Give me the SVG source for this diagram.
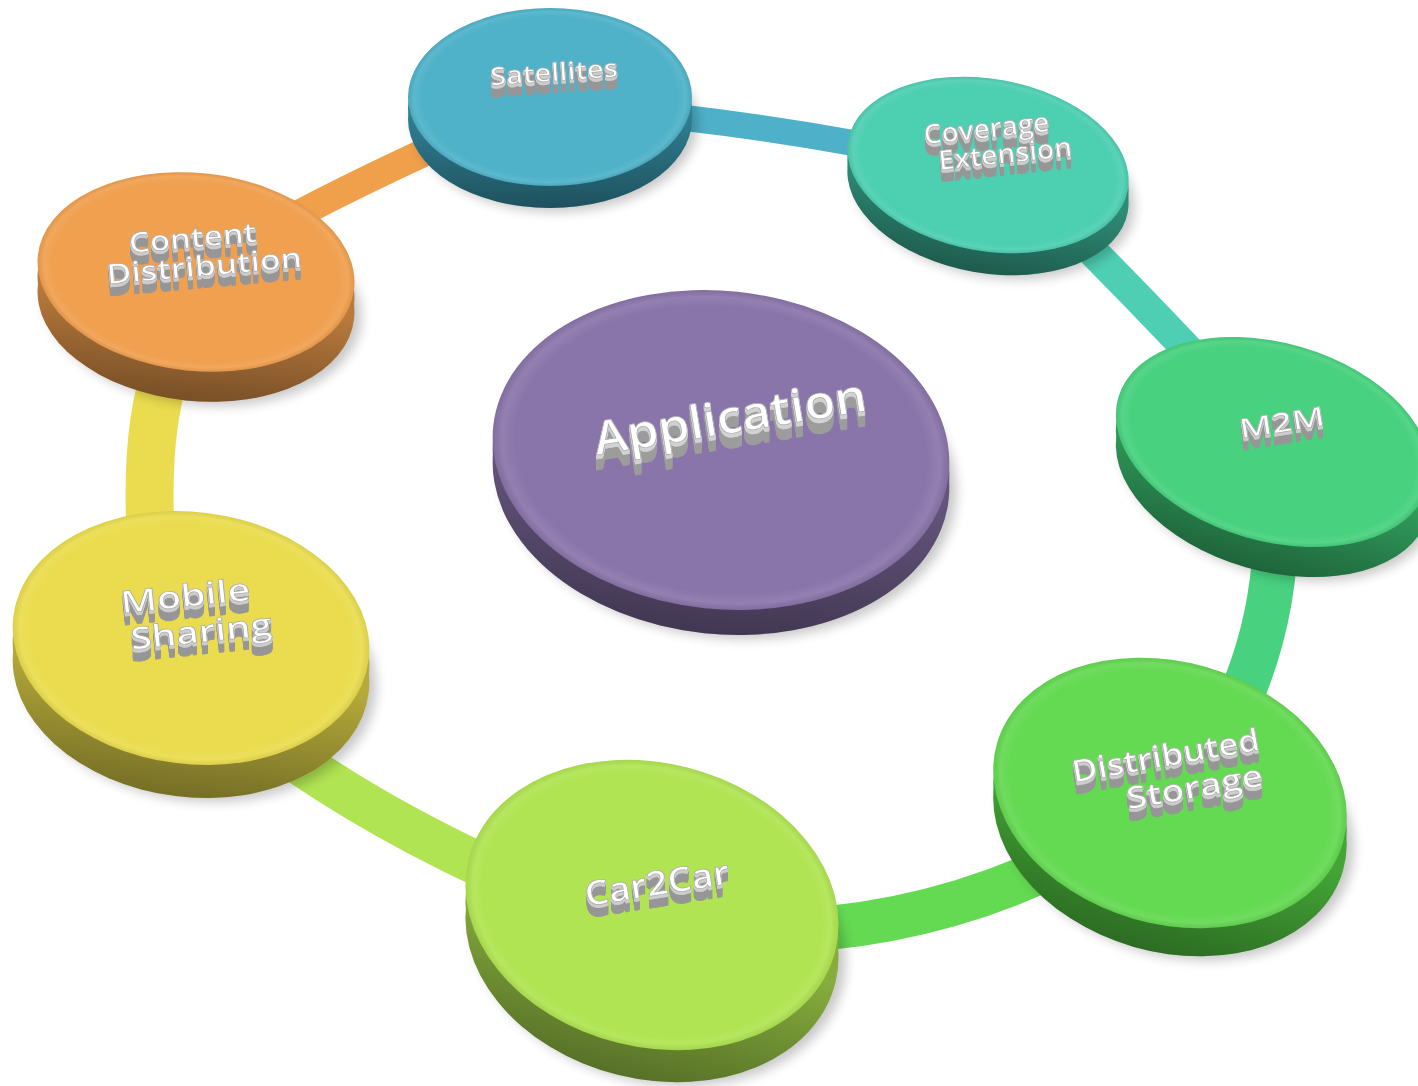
<svg xmlns="http://www.w3.org/2000/svg" width="1418" height="1086" viewBox="0 0 1418 1086">
<style>
.seg{fill:none;stroke-linecap:butt}
.lbl{font-family:"Open Sans","Liberation Sans",sans-serif;font-weight:600;fill:#ffffff;stroke:#a9a9a9;stroke-width:0.7;text-anchor:middle}
.shadow{fill:#000;opacity:0.22;filter:url(#blur)}
.sideShade{fill:url(#sideShade)}
.bevel{fill:url(#bevel)}
</style>
<defs>
<filter id="blur" x="-20%" y="-20%" width="140%" height="140%"><feGaussianBlur stdDeviation="6"/></filter>
<linearGradient id="sideShade" x1="0" y1="0" x2="0" y2="1">
<stop offset="0.5" stop-color="#000" stop-opacity="0"/>
<stop offset="1" stop-color="#000" stop-opacity="0.35"/>
</linearGradient>
<radialGradient id="bevel" cx="0.5" cy="0.5" r="0.5">
<stop offset="0.9" stop-color="#fff" stop-opacity="0"/>
<stop offset="0.96" stop-color="#fff" stop-opacity="0.08"/>
<stop offset="1" stop-color="#000" stop-opacity="0.06"/>
</radialGradient>
<filter id="ext" x="-10%" y="-30%" width="120%" height="220%">
<feOffset in="SourceAlpha" dy="1" result="a1"/><feOffset in="SourceAlpha" dy="2" result="a2"/>
<feOffset in="SourceAlpha" dy="3" result="a3"/><feOffset in="SourceAlpha" dy="4" result="a4"/>
<feOffset in="SourceAlpha" dy="5" result="a5"/><feOffset in="SourceAlpha" dy="6" result="a6"/>
<feOffset in="SourceAlpha" dy="7" result="a7"/><feOffset in="SourceAlpha" dy="8" result="a8"/>
<feOffset in="SourceAlpha" dy="9" result="a9"/><feOffset in="SourceAlpha" dy="10" result="a10"/>
<feOffset in="SourceAlpha" dy="11" result="a11"/><feOffset in="SourceAlpha" dy="12" result="a12"/>
<feMerge result="deep"><feMergeNode in="a4"/><feMergeNode in="a5"/><feMergeNode in="a6"/><feMergeNode in="a7"/><feMergeNode in="a8"/><feMergeNode in="a9"/><feMergeNode in="a10"/><feMergeNode in="a11"/><feMergeNode in="a12"/></feMerge>
<feMerge result="shallow"><feMergeNode in="a1"/><feMergeNode in="a2"/><feMergeNode in="a3"/></feMerge>
<feFlood flood-color="#969696"/><feComposite in2="deep" operator="in" result="d"/>
<feFlood flood-color="#cdcdcd"/><feComposite in2="shallow" operator="in" result="s"/>
<feMerge><feMergeNode in="d"/><feMergeNode in="s"/><feMergeNode in="SourceGraphic"/></feMerge>
</filter>
<filter id="extL" x="-10%" y="-30%" width="120%" height="220%">
<feOffset in="SourceAlpha" dy="1" result="a1"/><feOffset in="SourceAlpha" dy="2" result="a2"/>
<feOffset in="SourceAlpha" dy="3" result="a3"/><feOffset in="SourceAlpha" dy="4" result="a4"/>
<feOffset in="SourceAlpha" dy="5" result="a5"/><feOffset in="SourceAlpha" dy="6" result="a6"/>
<feOffset in="SourceAlpha" dy="7" result="a7"/><feOffset in="SourceAlpha" dy="8" result="a8"/>
<feOffset in="SourceAlpha" dy="9" result="a9"/><feOffset in="SourceAlpha" dy="10" result="a10"/>
<feOffset in="SourceAlpha" dy="11" result="a11"/><feOffset in="SourceAlpha" dy="12" result="a12"/>
<feOffset in="SourceAlpha" dy="13" result="a13"/><feOffset in="SourceAlpha" dy="14" result="a14"/>
<feOffset in="SourceAlpha" dy="15" result="a15"/>
<feMerge result="deep"><feMergeNode in="a5"/><feMergeNode in="a6"/><feMergeNode in="a7"/><feMergeNode in="a8"/><feMergeNode in="a9"/><feMergeNode in="a10"/><feMergeNode in="a11"/><feMergeNode in="a12"/><feMergeNode in="a13"/><feMergeNode in="a14"/><feMergeNode in="a15"/></feMerge>
<feMerge result="shallow"><feMergeNode in="a1"/><feMergeNode in="a2"/><feMergeNode in="a3"/><feMergeNode in="a4"/></feMerge>
<feFlood flood-color="#9c9c9c"/><feComposite in2="deep" operator="in" result="d"/>
<feFlood flood-color="#d2d2d2"/><feComposite in2="shallow" operator="in" result="s"/>
<feMerge><feMergeNode in="d"/><feMergeNode in="s"/><feMergeNode in="SourceGraphic"/></feMerge>
</filter>
</defs>
<rect width="1418" height="1086" fill="#ffffff"/>

<g id="connectors">
<path class="seg" d="M196,272 Q330,190 550,97" stroke="#F0A04B" stroke-width="28"/>
<path class="seg" d="M600,110 Q760,122 940,160" stroke="#4FB1C9" stroke-width="26"/>
<path class="seg" d="M1000,160 Q1140,295 1273,442" stroke="#4ECFB3" stroke-width="31"/>
<path class="seg" d="M1275,480 C1280,560 1270,640 1230,720" stroke="#48D17F" stroke-width="45"/>
<path class="seg" d="M700,930 Q930,945 1120,830" stroke="#64D952" stroke-width="44"/>
<path class="seg" d="M560,900 Q340,810 192,680" stroke="#B0E452" stroke-width="44"/>
<path class="seg" d="M152,560 C145,460 150,380 196,300" stroke="#EADC4E" stroke-width="48"/>
</g>

<g id="node-satellites">
<ellipse class="shadow" cx="0" cy="0" rx="142" ry="89" transform="translate(556,123)"/>
<ellipse cx="0" cy="0" rx="142" ry="89" fill="#2F7D91" transform="translate(550,119)"/>
<ellipse cx="0" cy="0" rx="142" ry="89" fill="#2F7D91" transform="translate(550,108)"/>
<ellipse class="sideShade" cx="0" cy="0" rx="142" ry="89" transform="translate(550,119)"/>
<ellipse cx="0" cy="0" rx="142" ry="89" fill="#4FB2C9" transform="translate(550,97)"/>
<ellipse class="bevel" cx="0" cy="0" rx="142" ry="89" transform="translate(550,97)"/>
<g filter="url(#ext)"><text class="lbl" x="554" y="81" font-size="25" textLength="128" lengthAdjust="spacingAndGlyphs" transform="rotate(-4 554 73)">Satellites</text></g>
</g>

<g id="node-coverage">
<ellipse class="shadow" cx="0" cy="0" rx="142" ry="86" transform="translate(994,191) rotate(10)"/>
<ellipse cx="0" cy="0" rx="142" ry="86" fill="#2E8C76" transform="translate(988,187) rotate(10)"/>
<ellipse cx="0" cy="0" rx="142" ry="86" fill="#2E8C76" transform="translate(988,176) rotate(10)"/>
<ellipse class="sideShade" cx="0" cy="0" rx="142" ry="86" transform="translate(988,187) rotate(10)"/>
<ellipse cx="0" cy="0" rx="142" ry="86" fill="#4DCFB2" transform="translate(988,165) rotate(10)"/>
<ellipse class="bevel" cx="0" cy="0" rx="142" ry="86" transform="translate(988,165) rotate(10)"/>
<g filter="url(#ext)"><text class="lbl" font-size="27" transform="rotate(-6 995 142)"><tspan x="988" y="137" textLength="126" lengthAdjust="spacingAndGlyphs">Coverage</tspan><tspan x="1004" y="164" textLength="134" lengthAdjust="spacingAndGlyphs">Extension</tspan></text></g>
</g>

<g id="node-m2m">
<ellipse class="shadow" cx="0" cy="0" rx="161" ry="99" transform="translate(1279,476) rotate(16)"/>
<ellipse cx="0" cy="0" rx="161" ry="99" fill="#2F9A5A" transform="translate(1273,472) rotate(16)"/>
<ellipse cx="0" cy="0" rx="161" ry="99" fill="#2F9A5A" transform="translate(1273,457) rotate(16)"/>
<ellipse class="sideShade" cx="0" cy="0" rx="161" ry="99" transform="translate(1273,472) rotate(16)"/>
<ellipse cx="0" cy="0" rx="161" ry="99" fill="#48D17F" transform="translate(1273,442) rotate(16)"/>
<ellipse class="bevel" cx="0" cy="0" rx="161" ry="99" transform="translate(1273,442) rotate(16)"/>
<g filter="url(#ext)"><text class="lbl" x="1282" y="432" font-size="27" textLength="86" lengthAdjust="spacingAndGlyphs" transform="rotate(-9 1282 423)">M2M</text></g>
</g>

<g id="node-distributed">
<ellipse class="shadow" cx="0" cy="0" rx="180" ry="131" transform="translate(1177,825) rotate(16)"/>
<ellipse cx="0" cy="0" rx="180" ry="131" fill="#44A536" transform="translate(1170,821) rotate(16)"/>
<ellipse cx="0" cy="0" rx="180" ry="131" fill="#44A536" transform="translate(1170,807) rotate(16)"/>
<ellipse class="sideShade" cx="0" cy="0" rx="180" ry="131" transform="translate(1170,821) rotate(16)"/>
<ellipse cx="0" cy="0" rx="180" ry="131" fill="#64D952" transform="translate(1170,793) rotate(16)"/>
<ellipse class="bevel" cx="0" cy="0" rx="180" ry="131" transform="translate(1170,793) rotate(16)"/>
<g filter="url(#ext)"><text class="lbl" font-size="31" transform="rotate(-10 1180 767)"><tspan x="1168" y="764" textLength="190" lengthAdjust="spacingAndGlyphs">Distributed</tspan><tspan x="1191" y="800" textLength="138" lengthAdjust="spacingAndGlyphs">Storage</tspan></text></g>
</g>

<g id="node-car2car">
<ellipse class="shadow" cx="0" cy="0" rx="189" ry="142" transform="translate(659,941) rotate(14)"/>
<ellipse cx="0" cy="0" rx="189" ry="142" fill="#86AD3D" transform="translate(652,937) rotate(14)"/>
<ellipse cx="0" cy="0" rx="189" ry="142" fill="#86AD3D" transform="translate(652,921) rotate(14)"/>
<ellipse class="sideShade" cx="0" cy="0" rx="189" ry="142" transform="translate(652,937) rotate(14)"/>
<ellipse cx="0" cy="0" rx="189" ry="142" fill="#B0E452" transform="translate(652,905) rotate(14)"/>
<ellipse class="bevel" cx="0" cy="0" rx="189" ry="142" transform="translate(652,905) rotate(14)"/>
<g filter="url(#ext)"><text class="lbl" x="657" y="895" font-size="34" textLength="146" lengthAdjust="spacingAndGlyphs" transform="rotate(-9 657 883)">Car2Car</text></g>
</g>

<g id="node-mobile">
<ellipse class="shadow" cx="0" cy="0" rx="179" ry="126" transform="translate(198,675) rotate(7)"/>
<ellipse cx="0" cy="0" rx="179" ry="126" fill="#B5AA3A" transform="translate(191,671) rotate(7)"/>
<ellipse cx="0" cy="0" rx="179" ry="126" fill="#B5AA3A" transform="translate(191,654) rotate(7)"/>
<ellipse class="sideShade" cx="0" cy="0" rx="179" ry="126" transform="translate(191,671) rotate(7)"/>
<ellipse cx="0" cy="0" rx="179" ry="126" fill="#EADC4E" transform="translate(191,638) rotate(7)"/>
<ellipse class="bevel" cx="0" cy="0" rx="179" ry="126" transform="translate(191,638) rotate(7)"/>
<g filter="url(#ext)"><text class="lbl" font-size="31" transform="rotate(-6 194 621)"><tspan x="188" y="606" textLength="130" lengthAdjust="spacingAndGlyphs">Mobile</tspan><tspan x="200" y="643" textLength="142" lengthAdjust="spacingAndGlyphs">Sharing</tspan></text></g>
</g>

<g id="node-content">
<ellipse class="shadow" cx="0" cy="0" rx="159" ry="99" transform="translate(203,306) rotate(6)"/>
<ellipse cx="0" cy="0" rx="159" ry="99" fill="#B97A3C" transform="translate(196,302) rotate(6)"/>
<ellipse cx="0" cy="0" rx="159" ry="99" fill="#B97A3C" transform="translate(196,287) rotate(6)"/>
<ellipse class="sideShade" cx="0" cy="0" rx="159" ry="99" transform="translate(196,302) rotate(6)"/>
<ellipse cx="0" cy="0" rx="159" ry="99" fill="#F0A04F" transform="translate(196,272) rotate(6)"/>
<ellipse class="bevel" cx="0" cy="0" rx="159" ry="99" transform="translate(196,272) rotate(6)"/>
<g filter="url(#ext)"><text class="lbl" font-size="28" transform="rotate(-5 200 252)"><tspan x="194" y="247" textLength="128" lengthAdjust="spacingAndGlyphs">Content</tspan><tspan x="203" y="276" textLength="196" lengthAdjust="spacingAndGlyphs">Distribution</tspan></text></g>
</g>

<g id="node-application">
<ellipse class="shadow" cx="0" cy="0" rx="229" ry="159" transform="translate(728,479) rotate(6)"/>
<ellipse cx="0" cy="0" rx="229" ry="159" fill="#65557E" transform="translate(721,475) rotate(6)"/>
<ellipse cx="0" cy="0" rx="229" ry="159" fill="#65557E" transform="translate(721,462) rotate(6)"/>
<ellipse class="sideShade" cx="0" cy="0" rx="229" ry="159" transform="translate(721,475) rotate(6)"/>
<ellipse cx="0" cy="0" rx="229" ry="159" fill="#8A75AA" transform="translate(721,450) rotate(6)"/>
<ellipse class="bevel" cx="0" cy="0" rx="229" ry="159" transform="translate(721,450) rotate(6)"/>
<g filter="url(#extL)"><text class="lbl" x="730" y="433" font-size="46" textLength="276" lengthAdjust="spacingAndGlyphs" transform="rotate(-9.3 730 417)">Application</text></g>
</g>
</svg>
